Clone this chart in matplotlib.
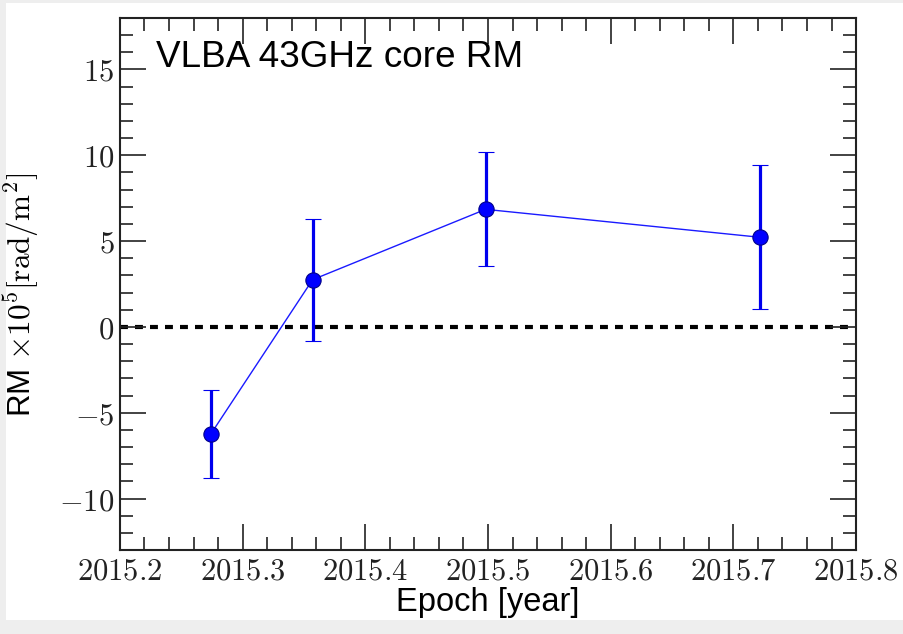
import matplotlib
matplotlib.use("Agg")
import matplotlib.pyplot as plt
from matplotlib.ticker import MultipleLocator, FuncFormatter
from matplotlib.patches import Rectangle

plt.rcParams["mathtext.fontset"] = "cm"

# Core rotation measure per epoch (units of 1e5 rad/m^2)
epochs = [2015.274, 2015.357, 2015.498, 2015.722]
rm = [-6.25, 2.75, 6.85, 5.22]
rm_err = [2.57, 3.56, 3.33, 4.20]

x_ticks = [2015.2, 2015.3, 2015.4, 2015.5, 2015.6, 2015.7, 2015.8]
y_ticks = [-10, -5, 0, 5, 10, 15]

fig = plt.figure(figsize=(9.04, 6.34), dpi=100)
fig.patch.set_facecolor("#eeeeee")
fig.patches.append(Rectangle((6 / 904, 14 / 634), 898 / 904, 617 / 634,
                             transform=fig.transFigure, facecolor="white",
                             edgecolor="none", zorder=-1))

ax = fig.add_axes([0.1327, 0.1325, 0.8143, 0.8391])

ax.axhline(0, color="black", lw=3, dashes=(1.9, 1.7), zorder=1)
ax.plot(epochs, rm, color="#1a1aff", lw=1.0, zorder=2)
ax.errorbar(epochs, rm, yerr=rm_err, fmt="o", color="#0000ee",
            ecolor="#0000ee", elinewidth=2.3, capsize=6, capthick=2.6,
            markersize=11, markerfacecolor="#0000ff",
            markeredgecolor="#000088", markeredgewidth=0.8, zorder=3)

ax.set_xlim(2015.2, 2015.8)
ax.set_ylim(-13, 18)
ax.set_xticks(x_ticks)
ax.set_yticks(y_ticks)
ax.xaxis.set_minor_locator(MultipleLocator(0.02))
ax.yaxis.set_minor_locator(MultipleLocator(1))
ax.xaxis.set_major_formatter(FuncFormatter(lambda v, p: r"$%.1f$" % v))
ax.yaxis.set_major_formatter(FuncFormatter(lambda v, p: r"$%d$" % round(v)))

ax.tick_params(which="both", direction="in", top=True, right=True,
               colors="#222222", labelcolor="#222222")
ax.tick_params(which="major", length=19, width=1.2, labelsize=22)
ax.tick_params(axis="x", which="major", pad=5)
ax.tick_params(axis="y", which="major", pad=4)
ax.tick_params(which="minor", length=9.5, width=1.2)
for s in ax.spines.values():
    s.set_linewidth(1.5)
    s.set_color("#222222")

ax.set_xlabel("Epoch [year]", fontsize=23.5, fontfamily="Liberation Sans",
              labelpad=1)
ax.set_ylabel(r"RM $\times10^5[\mathrm{rad/m^2}]$", fontsize=22.5,
              fontfamily="Liberation Sans")
ax.yaxis.set_label_coords(-0.106, 0.479)

ax.text(0.049, 0.925, "VLBA 43GHz core RM", transform=ax.transAxes,
        fontsize=26.6, fontfamily="Liberation Sans", va="center", ha="left")

fig.savefig("out.png", dpi=100)
